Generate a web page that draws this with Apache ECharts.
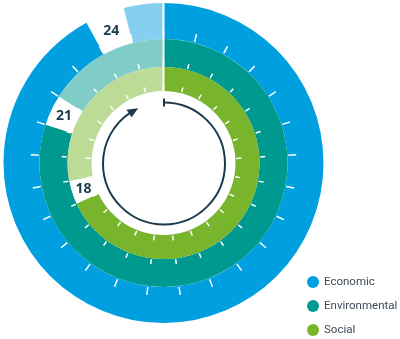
<!DOCTYPE html>
<html>
<head>
<meta charset="utf-8">
<script src="https://cdn.jsdelivr.net/npm/echarts@6/dist/echarts.min.js"></script>
<style>
html,body{margin:0;padding:0;background:#fff;}
#chart{width:400px;height:339px;}
</style>
</head>
<body>
<div id="chart"></div>
<script>
// ---- data ----
const categories = ['Economic', 'Environmental', 'Social'];
const reachedStep = [24, 21, 18];
const totalSteps = 25;

// ---- style ----
const darkColors = ['#009fe0', '#00998f', '#78b42c'];
const lightColors = ['#86cff0', '#80ccc7', '#bcdb96'];
const ringRadius = [[124, 160], [96, 124], [72, 96]];
const tickRadius = [[125, 133], [97, 102], [73, 78]];
const center = [163.5, 163];
const navy = '#1d3b4c';

const polar = [], angleAxis = [], radiusAxis = [], series = [];
const hidden = { axisLine: { show: false }, axisTick: { show: false }, axisLabel: { show: false }, splitLine: { show: false } };

categories.forEach((name, i) => {
  polar.push({ center: center, radius: ringRadius[i] });
  angleAxis.push(Object.assign({ polarIndex: i, type: 'value', min: 0, max: totalSteps, startAngle: 90, clockwise: true }, hidden));
  radiusAxis.push(Object.assign({ polarIndex: i, type: 'category', data: [name] }, hidden));
  const stack = 'ring' + i;
  series.push({
    type: 'bar', coordinateSystem: 'polar', polarIndex: i, name: name, stack: stack,
    barCategoryGap: '0%', data: [reachedStep[i] - 1], itemStyle: { color: darkColors[i] }, silent: true
  });
  series.push({
    type: 'bar', coordinateSystem: 'polar', polarIndex: i, name: name + ' step', stack: stack,
    barCategoryGap: '0%', data: [1], itemStyle: { color: 'rgba(0,0,0,0)' }, silent: true,
    label: { show: true, position: 'middle', rotate: 0, formatter: String(reachedStep[i]), fontFamily: 'Open Sans', fontWeight: 'bold', fontSize: 14, color: navy }
  });
  series.push({
    type: 'bar', coordinateSystem: 'polar', polarIndex: i, name: name + ' rest', stack: stack,
    barCategoryGap: '0%', data: [totalSteps - reachedStep[i]], itemStyle: { color: lightColors[i] }, silent: true
  });
});

// tick polars
categories.forEach((name, i) => {
  const k = polar.length;
  polar.push({ center: center, radius: tickRadius[i] });
  angleAxis.push({ polarIndex: k, type: 'value', min: 0, max: totalSteps, interval: 1, startAngle: 90, clockwise: true, z: 10,
    axisLine: { show: false }, axisTick: { show: false }, axisLabel: { show: false },
    splitLine: { show: true, lineStyle: { color: '#ffffff', width: 1.5 } } });
  radiusAxis.push(Object.assign({ polarIndex: k, type: 'value', min: 0, max: 1 }, hidden));
});
// separator at the start/end
{
  const k = polar.length;
  polar.push({ center: center, radius: [ringRadius[2][0], ringRadius[0][1] + 1] });
  angleAxis.push({ polarIndex: k, type: 'value', min: 0, max: totalSteps, interval: totalSteps, startAngle: 90, clockwise: true, z: 11,
    axisLine: { show: false }, axisTick: { show: false }, axisLabel: { show: false },
    splitLine: { show: true, lineStyle: { color: '#ffffff', width: 2 } } });
  radiusAxis.push(Object.assign({ polarIndex: k, type: 'value', min: 0, max: 1 }, hidden));
}

// arrow circle decoration
const ac = [164, 163.5], ar = 61;
const pt = (deg, r) => [ac[0] + r * Math.sin(deg * Math.PI / 180), ac[1] - r * Math.cos(deg * Math.PI / 180)];
const arcEnd = 327, tipDeg = 335, baseDeg = 325;
const graphic = [
  { type: 'arc', silent: true, shape: { cx: ac[0], cy: ac[1], r: ar, startAngle: -Math.PI / 2, endAngle: (arcEnd - 90) * Math.PI / 180, clockwise: true },
    style: { stroke: navy, lineWidth: 2, fill: null } },
  { type: 'line', silent: true, shape: { x1: ac[0], y1: ac[1] - ar - 4, x2: ac[0], y2: ac[1] - ar + 4 }, style: { stroke: navy, lineWidth: 2 } },
  { type: 'polygon', silent: true, shape: { points: [pt(tipDeg, ar), pt(baseDeg, ar - 4.5), pt(baseDeg, ar + 4.5)] }, style: { fill: navy } }
];

const chart = echarts.init(document.getElementById('chart'), null, { renderer: 'canvas' });
chart.setOption({
  animation: false,
  backgroundColor: '#ffffff',
  polar: polar,
  angleAxis: angleAxis,
  radiusAxis: radiusAxis,
  legend: {
    data: categories, orient: 'vertical', left: 302, top: 271, height: 100, width: 98,
    icon: 'circle', itemWidth: 12, itemHeight: 12, itemGap: 12,
    textStyle: { fontFamily: 'Roboto', fontSize: 11.5, lineHeight: 12, color: '#3d4a55' }
  },
  graphic: graphic,
  series: series
});
</script>
</body>
</html>
